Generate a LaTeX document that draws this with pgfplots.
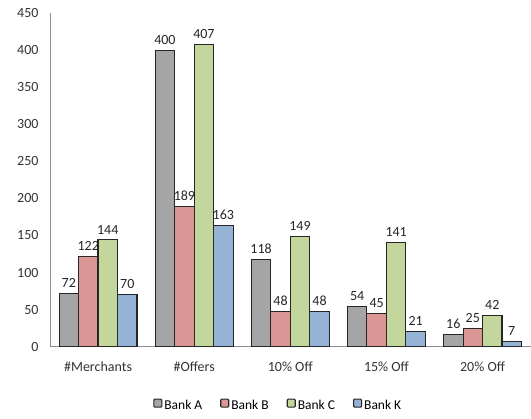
\documentclass[border=0pt]{standalone}
\usepackage{pgfplots}
\pgfplotsset{compat=1.18}
\usepackage{fontspec}
\setmainfont{Carlito}
\definecolor{bA}{HTML}{A5A5A5}
\definecolor{bB}{HTML}{D99694}
\definecolor{bC}{HTML}{C3D69B}
\definecolor{bK}{HTML}{95B3D7}
\definecolor{axc}{HTML}{8C8C8C}
\begin{document}
\begin{tikzpicture}
\begin{axis}[
  scale only axis,
  width=481pt, height=334pt,
  ymin=0, ymax=450,
  xmin=-0.5, xmax=4.5,
  ytick={0,50,...,450},
  xtick=data,
  xticklabels={\#Merchants,\#Offers,10\% Off,15\% Off,20\% Off},
  axis x line*=bottom, axis y line*=left,
  axis line style={axc, line width=0.8pt, -},
  major tick length=0pt,
  ybar=0pt, bar width=19.5pt,
  enlarge x limits=false,
  /pgf/number format/assume math mode=true,
  tick label style={font=\fontsize{14}{16}\selectfont, text=black!80},
  yticklabel style={xshift=-8pt},
  xticklabel style={yshift=-12pt},
  nodes near coords,
  every node near coord/.append style={font=\fontsize{14}{16}\selectfont, text=black!85, yshift=2pt},
  legend style={at={(0.475,-0.175)}, anchor=center, draw=none, legend columns=4,
    font=\fontsize{13.5}{15}\selectfont, /tikz/every even column/.append style={column sep=16pt}},
  legend image code/.code={\draw[#1, rounded corners=1pt] (0pt,-2pt) rectangle (8pt,6pt);},
  every axis plot/.append style={draw=black!85, line width=1.1pt},
  clip=false,
]
\addplot[fill=bA, draw=black!85] coordinates {(0,72) (1,400) (2,118) (3,54) (4,16)};
\addplot[fill=bB, draw=black!85] coordinates {(0,122) (1,189) (2,48) (3,45) (4,25)};
\addplot[fill=bC, draw=black!85] coordinates {(0,144) (1,407) (2,149) (3,141) (4,42)};
\addplot[fill=bK, draw=black!85] coordinates {(0,70) (1,163) (2,48) (3,21) (4,7)};
\legend{Bank A,Bank B,Bank C,Bank K}
\end{axis}
\path (current axis.south west) ++(-50pt,-72pt) rectangle ++(531pt,419pt);
\end{tikzpicture}
\end{document}
